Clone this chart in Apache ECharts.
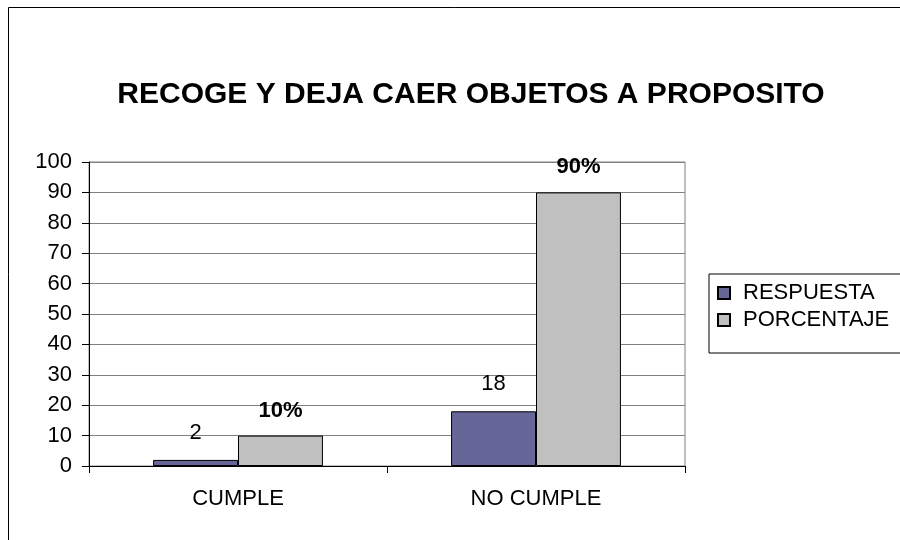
<!DOCTYPE html>
<html>
<head>
<meta charset="utf-8">
<script src="https://cdn.jsdelivr.net/npm/echarts@6/dist/echarts.min.js"></script>
<style>
html, body { margin: 0; padding: 0; background: #fff; }
#chart { width: 900px; height: 540px; }
</style>
</head>
<body>
<div id="chart"></div>
<script>
// datos del gráfico
var categorias = ['CUMPLE', 'NO CUMPLE'];
var respuesta = [2, 18];
var porcentaje = [10, 90];
var ticksY = [0, 10, 20, 30, 40, 50, 60, 70, 80, 90, 100];

var fuente = "'Liberation Sans', Arial, sans-serif";

var myChart = echarts.init(document.getElementById('chart'));
var option = {
    backgroundColor: '#fff',
    animation: false,
    title: {
        text: 'RECOGE Y DEJA CAER OBJETOS A PROPOSITO',
        left: 466,
        textAlign: 'center',
        top: 75,
        textStyle: { fontFamily: fuente, fontSize: 30, fontWeight: 'bold', color: '#000' }
    },
    // marco exterior
    graphic: [{
        type: 'rect',
        shape: { x: 8.5, y: 7.5, width: 1000, height: 1000 },
        style: { fill: 'none', stroke: '#000', lineWidth: 1 }
    }],
    legend: {
        orient: 'vertical',
        left: 709,
        top: 274,
        padding: [8, 40, 22, 8],
        itemGap: 5,
        itemWidth: 12,
        itemHeight: 12,
        icon: 'rect',
        borderColor: '#000',
        borderWidth: 1,
        textStyle: { fontFamily: fuente, fontSize: 22, color: '#000', padding: [0, 0, 0, 8] },
        data: ['RESPUESTA', 'PORCENTAJE']
    },
    grid: {
        left: 89,
        right: 215,
        top: 162,
        bottom: 74,
        show: true,
        borderColor: '#808080',
        borderWidth: 1
    },
    xAxis: {
        type: 'category',
        data: categorias,
        axisLine: { lineStyle: { color: '#000', width: 1 } },
        axisTick: { show: true, length: 7, lineStyle: { color: '#000' } },
        axisLabel: { margin: 22, fontFamily: fuente, fontSize: 22, color: '#000' }
    },
    yAxis: {
        type: 'value',
        min: ticksY[0],
        max: ticksY[ticksY.length - 1],
        interval: 10,
        axisLine: { show: true, lineStyle: { color: '#000', width: 1 } },
        axisTick: { show: true, length: 7, lineStyle: { color: '#000' } },
        axisLabel: { margin: 17, fontFamily: fuente, fontSize: 22, color: '#000' },
        splitLine: { lineStyle: { color: '#808080', width: 1 } }
    },
    series: [
        {
            name: 'RESPUESTA',
            type: 'bar',
            data: respuesta,
            barGap: '0%',
            barCategoryGap: '43%',
            itemStyle: { color: '#666699', borderColor: '#000', borderWidth: 1 },
            label: {
                show: true,
                position: 'top',
                distance: 16,
                fontFamily: fuente,
                fontSize: 22,
                color: '#000'
            }
        },
        {
            name: 'PORCENTAJE',
            type: 'bar',
            data: porcentaje,
            barGap: '0%',
            barCategoryGap: '43%',
            itemStyle: { color: '#C0C0C0', borderColor: '#000', borderWidth: 1 },
            label: {
                show: true,
                position: 'top',
                distance: 14,
                fontFamily: fuente,
                fontSize: 22,
                fontWeight: 'bold',
                color: '#000',
                formatter: function (p) { return p.value + '%'; }
            }
        }
    ]
};
myChart.setOption(option);
</script>
</body>
</html>
